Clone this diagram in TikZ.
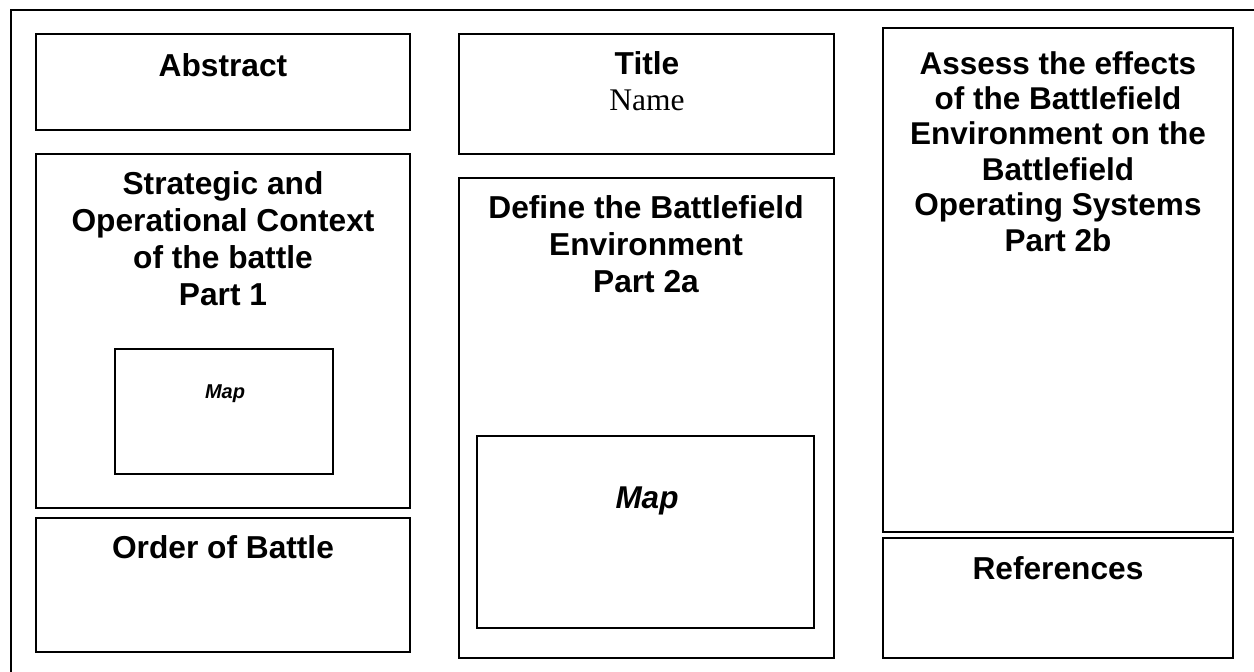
\documentclass[tikz,border=0pt]{standalone}
\usepackage{fontspec}
\newfontfamily\arialf{Liberation Sans}
\newfontfamily\timesf{Liberation Serif}
\begin{document}
\begin{tikzpicture}[x=1pt,y=-1pt,
  frame/.style={draw=black,line width=2.2pt},
  panel/.style={draw=black,line width=1.7pt,fill=none},
  mapbox/.style={draw=black,line width=1.3pt,fill=none},
  head/.style={anchor=base,align=center,inner sep=0pt,font=\arialf\bfseries\fontsize{31.7}{37}\selectfont},
  headtight/.style={head,font=\arialf\bfseries\fontsize{31.5}{35.4}\selectfont},
  sub/.style={anchor=base,align=center,inner sep=0pt,font=\timesf\fontsize{31.5}{36.7}\selectfont},
  smallmap/.style={anchor=base,inner sep=0pt,font=\arialf\bfseries\itshape\fontsize{20}{24}\selectfont},
  bigmap/.style={anchor=base,inner sep=0pt,font=\arialf\bfseries\itshape\fontsize{31.5}{36.7}\selectfont}]
\useasboundingbox (0,0) rectangle (1254,672);
\fill[white] (0,0) rectangle (1254,672);
% outer frame
\coordinate (fbl) at (11,672);
\coordinate (ftl) at (11,10);
\coordinate (ftr) at (1254,10);
\draw[frame] (fbl) -- (ftl) -- (ftr);
% column 1 (base anchor = baseline of the last line)
\draw[panel] (36,34) rectangle (410,130);
\node[head] (abs) at (223,76) {Abstract};
\draw[panel] (36,154) rectangle (410,508);
\node[head] (strat) at (223,305) {Strategic and\\Operational Context\\of the battle\\Part 1};
\draw[mapbox] (115,349) rectangle (333,474);
\node[smallmap] (map1) at (225,398) {Map};
\draw[panel] (36,518) rectangle (410,652);
\node[head] (oob) at (223,558) {Order of Battle};
% column 2
\draw[panel] (459,34) rectangle (834,154);
\node[head] (title) at (647,74) {Title};
\node[sub] (name) at (647,110) {Name};
\draw[panel] (459,178) rectangle (834,658);
\node[head] (define) at (646,292) {Define the Battlefield\\Environment\\Part 2a};
\draw[mapbox] (477,436) rectangle (814,628);
\node[bigmap] (map2) at (647,508) {Map};
% column 3
\draw[panel] (883,28) rectangle (1233,532);
\node[headtight] (assess) at (1058,251) {Assess the effects\\of the Battlefield\\Environment on the\\Battlefield\\Operating Systems\\Part 2b};
\draw[panel] (883,538) rectangle (1233,658);
\node[head] (refs) at (1058,579) {References};
\end{tikzpicture}
\end{document}
